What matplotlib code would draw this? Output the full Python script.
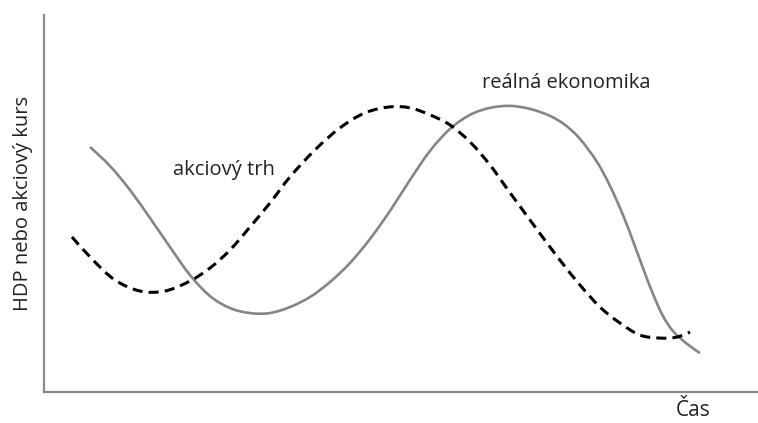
import numpy as np
import matplotlib
matplotlib.use("Agg")
import matplotlib.pyplot as plt
from matplotlib.path import Path
from matplotlib.patches import PathPatch

plt.rcParams['font.family'] = ['Open Sans', 'DejaVu Sans']

cas_ekon = [46, 66, 86, 106, 126, 146, 166, 186, 206, 226, 246, 266, 286, 306, 326, 346, 366, 386,
            406, 426, 446, 466, 486, 506, 521, 536, 553, 566, 579, 589, 599, 609, 619, 629, 642, 656]
hdp_ekon = [245, 226, 202, 174, 145, 117, 96, 84, 79, 79, 85, 95, 110, 129, 153, 181, 212, 241,
            263, 277, 284, 286, 283, 276, 267, 253, 230, 206, 177, 151, 124, 98, 76, 61, 49, 39]

# stock market (dashed black)
cas_trh = [28, 49, 71, 96, 121, 146, 166, 186, 206, 226, 246, 271, 296, 321, 346, 366,
           386, 406, 426, 446, 464, 486, 503, 519, 536, 556, 576, 596, 616, 633, 646]
kurs_trh = [155, 132, 112, 101, 101, 111, 124, 142, 165, 189, 215, 242, 264, 279, 285, 284,
            277, 267, 250, 227, 202, 172, 149, 128, 107, 85, 69, 57, 54, 55, 60]


def smooth_path(x, y):
    # catmull-rom through the points, drawn as cubic bezier segments
    p = np.column_stack([x, y]).astype(float)
    verts = [p[0]]
    codes = [Path.MOVETO]
    for i in range(len(p) - 1):
        p0 = p[i - 1] if i > 0 else p[i]
        p1, p2 = p[i], p[i + 1]
        p3 = p[i + 2] if i + 2 < len(p) else p[i + 1]
        verts += [p1 + (p2 - p0) / 6, p2 - (p3 - p1) / 6, p2]
        codes += [Path.CURVE4] * 3
    return Path(verts, codes)


fig = plt.figure(figsize=(7.58, 4.23), dpi=100)
ax = fig.add_axes([0.058, 0.073, 0.942, 0.892])

ax.add_patch(PathPatch(smooth_path(cas_ekon, hdp_ekon), fill=False,
                       edgecolor='#858585', lw=1.9, capstyle='butt'))
ax.add_patch(PathPatch(smooth_path(cas_trh, kurs_trh), fill=False,
                       edgecolor='black', lw=2.2, linestyle=(0, (3.3, 2.0))))

ax.text(180, 222, 'akciový trh', fontsize=14.5, ha='center', va='center', color='#222222')
ax.text(522, 309, 'reálná ekonomika', fontsize=14.5, ha='center', va='center', color='#222222')

ax.set_xlim(0, 714)
ax.set_ylim(0, 377)
ax.set_xticks([])
ax.set_yticks([])
for s in ['top', 'right']:
    ax.spines[s].set_visible(False)
for s in ['left', 'bottom']:
    ax.spines[s].set_color('#8a8a8a')
    ax.spines[s].set_linewidth(1.6)

ax.set_ylabel('HDP nebo akciový kurs', fontsize=14.5, color='#222222', labelpad=8)
fig.text(0.914, 0.016, 'Čas', fontsize=15, ha='center', va='baseline', color='#222222')

fig.savefig('out.png', dpi=100)
